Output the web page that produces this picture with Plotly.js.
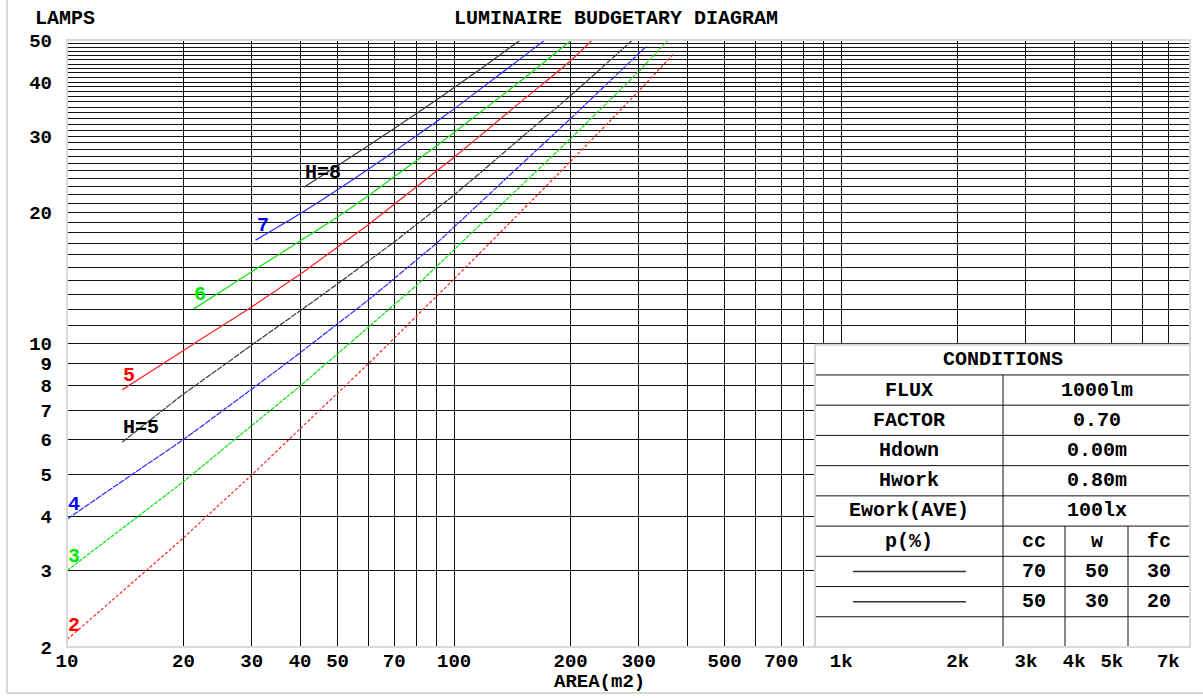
<!DOCTYPE html>
<html>
<head>
<meta charset="utf-8">
<script src="https://cdn.plot.ly/plotly-3.0.1.min.js"></script>
<style>
html,body{margin:0;padding:0;background:#fff;}
#chart{width:1203px;height:698px;}
</style>
</head>
<body>
<div id="chart"></div>
<script>
// ---- data (AREA m2 -> number of LAMPS) ----
// right-hand group (thin / dotted curves)
const area_H2  = [10, 15, 20, 25, 30, 40, 50, 60, 70, 80, 100, 150, 200, 300, 371];
const lamps_H2 = [2.08, 2.85, 3.57, 4.29, 4.98, 6.36, 7.69, 8.98, 10.28, 11.57, 14.08, 20.28, 26.27, 38.15, 46.7];

const area_H3  = [10, 15, 20, 25, 30, 40, 50, 60, 70, 80, 100, 150, 200, 300, 357];
const lamps_H3 = [3.0, 3.95, 4.81, 5.66, 6.47, 7.98, 9.47, 10.9, 12.28, 13.61, 16.45, 23.22, 29.66, 42.38, 50];

const area_H4  = [10, 15, 20, 25, 30, 35, 40, 50, 60, 70, 80, 90, 100, 150, 200, 300, 314];
const lamps_H4 = [3.94, 5.05, 6.01, 6.96, 7.85, 8.70, 9.52, 11.10, 12.59, 14.11, 15.58, 17.0, 18.55, 25.98, 32.98, 46.55, 48.4];

const area_H5b  = [13.9, 17, 20, 25, 30, 35, 40, 50, 60, 70, 80, 100, 150, 200, 289];
const lamps_H5b = [5.93, 6.83, 7.65, 8.82, 9.92, 10.93, 11.89, 13.72, 15.47, 17.13, 18.81, 21.99, 29.93, 37.24, 50];

// left-hand group (solid curves)
const area_H5  = [13.9, 17, 20, 25, 30, 35, 40, 50, 60, 70, 80, 90, 100, 150, 200, 227];
const lamps_H5 = [7.83, 8.78, 9.64, 10.95, 12.14, 13.32, 14.43, 16.68, 18.78, 20.92, 22.97, 24.94, 26.85, 36.25, 44.8, 49.9];

const area_H6  = [21.2, 25, 30, 35, 40, 50, 60, 70, 80, 90, 100, 150, 200];
const lamps_H6 = [12.0, 13.18, 14.63, 15.97, 17.23, 19.57, 21.9, 24.2, 26.4, 28.5, 30.6, 40.5, 49.8];

const area_H7  = [30.7, 40, 50, 60, 70, 80, 90, 100, 130, 150, 171.6];
const lamps_H7 = [17.3, 19.9, 22.6, 25.2, 27.7, 30.1, 32.4, 34.7, 41.4, 45.6, 50];

const area_H8  = [40.9, 50, 60, 70, 80, 90, 100, 120, 148];
const lamps_H8 = [22.9, 25.68, 28.54, 31.26, 33.87, 36.39, 38.85, 43.58, 49.94];

// tick labels
const xTickVals = [10,20,30,40,50,70,100,200,300,500,700,1000,2000,3000,4000,5000,7000];
const xTickText = ['10','20','30','40','50','70','100','200','300','500','700','1k','2k','3k','4k','5k','7k'];
const yTickVals = [2,3,4,5,6,7,8,9,10,20,30,40,50];
const yTickText = ['2','3','4','5','6','7','8','9','10','20','30','40','50'];

// conditions table
const condLabels = ['FLUX','FACTOR','Hdown','Hwork','Ework(AVE)'];
const condValues = ['1000lm','0.70','0.00m','0.80m','100lx'];
const reflHeader = ['cc','w','fc'];
const reflRow1   = ['70','50','30'];
const reflRow2   = ['50','30','20'];

// ---- drawing ----
const FONT = 'Liberation Mono, Courier New, monospace';
const curves = [
  {x: area_H2,  y: lamps_H2,  color:'#ff2020', dash:'3px,2px', width:1.2, label:'2',   lc:'#ff0000'},
  {x: area_H3,  y: lamps_H3,  color:'#10e010', dash:'4px,1px', width:1.2, label:'3',   lc:'#00e600'},
  {x: area_H4,  y: lamps_H4,  color:'#2a2aff', dash:'6px,1px', width:1.2, label:'4',   lc:'#0000ff'},
  {x: area_H5b, y: lamps_H5b, color:'#3a3a3a', dash:'6px,1px', width:1.2, label:'H=5', lc:'#000000'},
  {x: area_H5,  y: lamps_H5,  color:'#ff2020', dash:'solid',   width:1.2, label:'5',   lc:'#ff0000'},
  {x: area_H6,  y: lamps_H6,  color:'#10e010', dash:'solid',   width:1.2, label:'6',   lc:'#00e600'},
  {x: area_H7,  y: lamps_H7,  color:'#2a2aff', dash:'solid',   width:1.2, label:'7',   lc:'#0000ff'},
  {x: area_H8,  y: lamps_H8,  color:'#3a3a3a', dash:'solid',   width:1.2, label:'H=8', lc:'#000000'}
];

const traces = curves.map(c => ({
  type:'scatter', mode:'lines', x:c.x, y:c.y,
  line:{color:c.color, width:c.width, dash:c.dash, shape:'spline', smoothing:0.6},
  hoverinfo:'skip', showlegend:false
}));

// x grid: 1..9 per decade up to 7k
const xGrid = [];
[10,100,1000].forEach(d => { for (let k=1;k<=9;k++){ const v=k*d; if (v<=7000) xGrid.push(v); } });
const xText = xGrid.map(v => { const i = xTickVals.indexOf(v); return i>=0 ? xTickText[i] : ''; });
// y grid: every integer 2..50
const yGrid = [];
for (let v=2; v<=50; v++) yGrid.push(v);
const yText = yGrid.map(v => { const i = yTickVals.indexOf(v); return i>=0 ? yTickText[i] : ''; });

const bold = (size, color) => ({family:FONT, size:size, color:color||'#000', weight:'bold'});

const annotations = [];
curves.forEach(c => {
  annotations.push({x:Math.log10(c.x[0]), y:Math.log10(c.y[0]), xref:'x', yref:'y',
    text:c.label, showarrow:false, xanchor:'left', yanchor:'bottom', yshift:1, xshift:-1,
    font:bold(20, c.lc)});
});
// titles
annotations.push({x:0.4889, y:1.035, xref:'paper', yref:'paper', text:'LUMINAIRE BUDGETARY DIAGRAM',
  showarrow:false, xanchor:'center', yanchor:'middle', font:bold(20)});
annotations.push({x:-0.0022, y:1.035, xref:'paper', yref:'paper', text:'LAMPS',
  showarrow:false, xanchor:'center', yanchor:'middle', font:bold(20)});
annotations.push({x:0.4746, y:-0.058, xref:'paper', yref:'paper', text:'AREA(m2)',
  showarrow:false, xanchor:'center', yanchor:'middle', font:bold(19)});

// table geometry (paper coords)
const tx0 = 0.6661, tx1 = 1.0, ttop = 0.498, rh = ttop/10;
const cDiv = 0.8335, cW = 0.8887, cFc = 0.9448;
const rowC = i => ttop - (i+0.5)*rh;
const shapes = [];
shapes.push({type:'rect', xref:'paper', yref:'paper', x0:tx0, x1:tx1, y0:0, y1:ttop,
  fillcolor:'#ffffff', line:{width:0}, layer:'above'});
for (let i=1;i<=9;i++){
  shapes.push({type:'line', xref:'paper', yref:'paper', x0:tx0, x1:tx1, y0:ttop-i*rh, y1:ttop-i*rh,
    line:{color:'#111', width:1}, layer:'above'});
}
shapes.push({type:'line', xref:'paper', yref:'paper', x0:cDiv, x1:cDiv, y0:0, y1:ttop-rh, line:{color:'#111', width:1}, layer:'above'});
shapes.push({type:'line', xref:'paper', yref:'paper', x0:cW, x1:cW, y0:0, y1:ttop-6*rh, line:{color:'#111', width:1}, layer:'above'});
shapes.push({type:'line', xref:'paper', yref:'paper', x0:cFc, x1:cFc, y0:0, y1:ttop-6*rh, line:{color:'#111', width:1}, layer:'above'});
// table outer (light) border
shapes.push({type:'line', xref:'paper', yref:'paper', x0:tx0, x1:tx1, y0:ttop, y1:ttop, line:{color:'#d4d4d4', width:2}, layer:'above'});
shapes.push({type:'line', xref:'paper', yref:'paper', x0:tx0, x1:tx0, y0:0, y1:ttop, line:{color:'#d4d4d4', width:2}, layer:'above'});
// legend sample lines
[7,8].forEach(r => shapes.push({type:'line', xref:'paper', yref:'paper', x0:0.6999, x1:0.8005, y0:rowC(r), y1:rowC(r),
  line:{color:'#333', width:1.5}, layer:'above'}));
// plot frame
shapes.push({type:'rect', xref:'paper', yref:'paper', x0:0, x1:1, y0:0, y1:1, line:{color:'#d9d9d9', width:2}, layer:'above'});
// outer image frame (left and bottom)
shapes.push({type:'line', xref:'paper', yref:'paper', x0:-0.0534, x1:-0.0534, y0:-0.0758, y1:1.2, line:{color:'#d6d6d6', width:2}, layer:'above'});
shapes.push({type:'line', xref:'paper', yref:'paper', x0:-0.0534, x1:1.1, y0:-0.0758, y1:-0.0758, line:{color:'#d6d6d6', width:2}, layer:'above'});

// table text
const tText = (x, y, t) => annotations.push({x:x, y:y, xref:'paper', yref:'paper', text:t, showarrow:false,
  xanchor:'center', yanchor:'middle', font:bold(20)});
tText((tx0+tx1)/2, rowC(0), 'CONDITIONS');
condLabels.forEach((t,i) => tText((tx0+cDiv)/2, rowC(i+1), t));
condValues.forEach((t,i) => tText((cDiv+tx1)/2, rowC(i+1), t));
tText((tx0+cDiv)/2, rowC(6), 'p(%)');
const colC = [(cDiv+cW)/2, (cW+cFc)/2, (cFc+tx1)/2];
reflHeader.forEach((t,i) => tText(colC[i], rowC(6), t));
reflRow1.forEach((t,i) => tText(colC[i], rowC(7), t));
reflRow2.forEach((t,i) => tText(colC[i], rowC(8), t));

const layout = {
  width:1203, height:698,
  margin:{l:67, r:13, t:40, b:51, pad:0},
  paper_bgcolor:'#ffffff', plot_bgcolor:'#ffffff',
  showlegend:false,
  xaxis:{type:'log', range:[1, 3.901], tickmode:'array', tickvals:xGrid, ticktext:xText,
    showgrid:true, gridcolor:'#111111', gridwidth:1, zeroline:false, showline:false,
    ticks:'', tickfont:bold(19), automargin:false, fixedrange:true, tickangle:0},
  yaxis:{type:'log', range:[Math.log10(2), Math.log10(50)], tickmode:'array', tickvals:yGrid, ticktext:yText,
    showgrid:true, gridcolor:'#111111', gridwidth:1, zeroline:false, showline:false,
    ticks:'', ticklabelstandoff:14, tickfont:bold(19), automargin:false, fixedrange:true},
  shapes:shapes,
  annotations:annotations
};

Plotly.newPlot('chart', traces, layout, {displayModeBar:false, staticPlot:true});
</script>
</body>
</html>
